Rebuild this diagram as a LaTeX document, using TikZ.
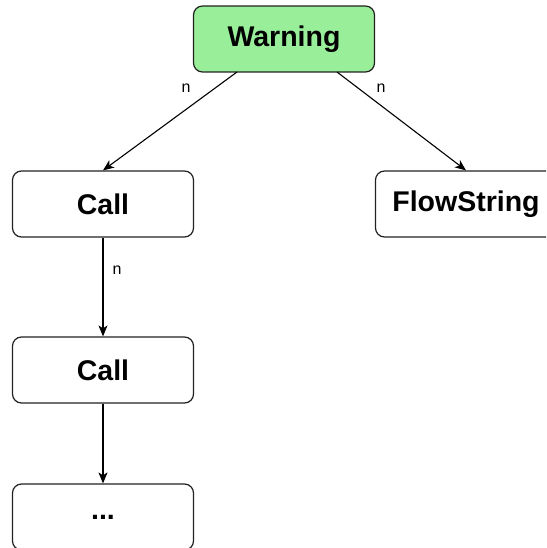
\documentclass[tikz,border=0pt]{standalone}
\usepackage{fontspec}
\setmainfont{Liberation Sans}
\usetikzlibrary{arrows.meta}
\definecolor{warnfill}{HTML}{99EE99}
\definecolor{edgegray}{HTML}{222222}
\begin{document}
\begin{tikzpicture}[x=1pt,y=-1pt,
  entity/.style={draw=edgegray,line width=1.2pt,rounded corners=9pt,
    minimum width=181pt,minimum height=66pt,inner sep=0pt,
    font=\fontsize{28.5}{32}\selectfont\bfseries},
  link/.style={draw=black,line width=1.1pt,-{Stealth[length=11pt,width=9pt,inset=3pt]}},
  card/.style={font=\fontsize{16}{18}\selectfont,inner sep=0pt}]
  \useasboundingbox (0,0) rectangle (546,548);
  \begin{scope}
  \clip (0,0) rectangle (546,548);
  \node[entity,fill=warnfill] (warn) at (284,39) {Warning};
  \node[entity,fill=white] (call1) at (103,204) {Call};
  \node[entity,fill=white] (flow) at (466,204) {FlowString};
  \node[entity,fill=white] (call2) at (103,370) {Call};
  \node[entity,fill=white] (more) at (103,517) {...};
  \end{scope}
  \coordinate (wl) at (237,72);
  \coordinate (wr) at (337,72);
  \draw[link] (wl) -- (call1.north);
  \draw[link] (wr) -- (flow.north);
  \draw[link] (call1.south) -- (call2.north);
  \draw[link] (call2.south) -- (more.north);
  \node[card] (n1) at (186,88) {n};
  \node[card] (n2) at (381,88) {n};
  \node[card] (n3) at (117,270) {n};
\end{tikzpicture}
\end{document}
